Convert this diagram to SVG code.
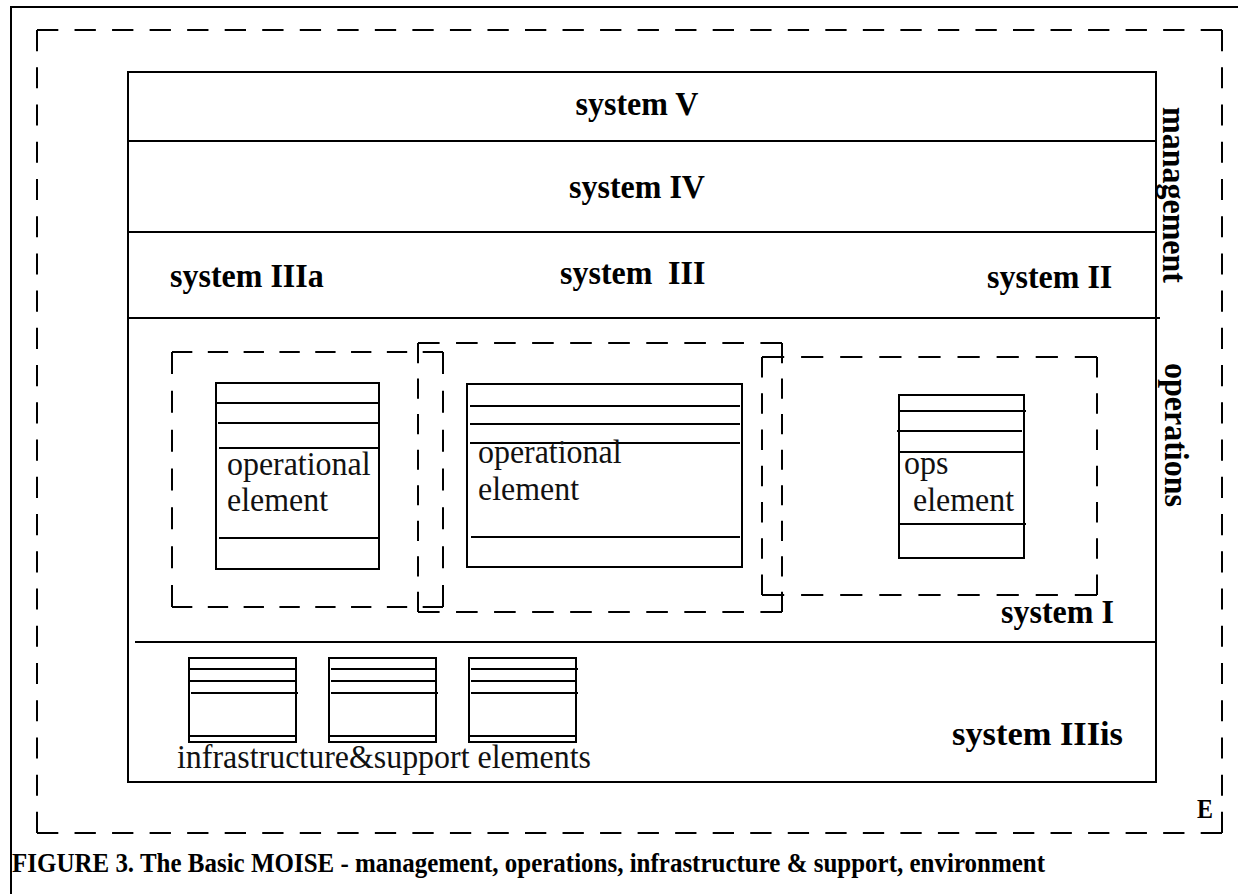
<svg xmlns="http://www.w3.org/2000/svg" width="1238" height="894" viewBox="0 0 1238 894">
  <style>
    .solid { fill: none; stroke: #000; stroke-width: 2; }
    .dash { fill: none; stroke: #000; stroke-width: 2; stroke-dasharray: 21 16; }
    .line { stroke: #000; stroke-width: 2; }
    .lbl { font-family: "Liberation Serif", "Times New Roman", serif; font-weight: bold; font-size: 32px; fill: #000; }
    .elt { font-family: "Liberation Serif", "Times New Roman", serif; font-size: 31px; fill: #111; }
    .cap { font-family: "Liberation Serif", "Times New Roman", serif; font-weight: bold; font-size: 28px; fill: #000; }
  </style>

  <rect width="1238" height="894" fill="#fff"/>

  <!-- page frame -->
  <g id="frame">
    <line class="line" x1="11" y1="7" x2="1238" y2="7"/>
    <line class="line" x1="11" y1="6" x2="11" y2="894"/>
  </g>

  <!-- environment boundary -->
  <g id="environment">
    <line class="dash" x1="37" y1="30" x2="1222" y2="30" pathLength="1168"/>
    <line class="dash" x1="37" y1="833" x2="1222" y2="833" pathLength="1168"/>
    <line class="dash" x1="37" y1="30" x2="37" y2="833" pathLength="798"/>
    <line class="dash" x1="1222" y1="30" x2="1222" y2="833" pathLength="798"/>
    <text class="lbl" transform="translate(1197,818) scale(1,1.1)" style="font-size:24px">E</text>
  </g>

  <!-- the viable system -->
  <g id="organisation">
    <rect class="solid" x="128" y="72" width="1028" height="710"/>
    <line class="line" x1="128" y1="141" x2="1156" y2="141"/>
    <line class="line" x1="128" y1="232" x2="1156" y2="232"/>
    <line class="line" x1="128" y1="318" x2="1160" y2="318"/>
    <line class="line" x1="135" y1="642" x2="1156" y2="642"/>
  </g>

  <g id="system-v">
    <text class="lbl" transform="translate(637,115) scale(1,1.08)" text-anchor="middle">system V</text>
  </g>
  <g id="system-iv">
    <text class="lbl" transform="translate(637,198) scale(1,1.08)" text-anchor="middle">system IV</text>
  </g>
  <g id="system-iiia">
    <text class="lbl" transform="translate(170,287) scale(1,1.08)">system IIIa</text>
  </g>
  <g id="system-iii">
    <text class="lbl" transform="translate(560,284) scale(1,1.08)">system<tspan x="108">III</tspan></text>
  </g>
  <g id="system-ii">
    <text class="lbl" transform="translate(987,288) scale(1,1.08)">system II</text>
  </g>
  <g id="management">
    <text class="lbl" transform="translate(1163,107) rotate(90) scale(1,1.08)">management</text>
  </g>
  <g id="operations">
    <text class="lbl" transform="translate(1165,363) rotate(90) scale(1,1.08)">operations</text>
  </g>

  <!-- system I: operational units -->
  <g id="unit-1">
    <line class="dash" x1="172" y1="352" x2="443" y2="352" pathLength="280"/>
    <line class="dash" x1="172" y1="607" x2="443" y2="607" pathLength="280"/>
    <line class="dash" x1="172" y1="352" x2="172" y2="607" pathLength="243"/>
    <line class="dash" x1="443" y1="352" x2="443" y2="607" pathLength="243"/>
    <rect class="solid" x="216" y="383" width="163" height="186"/>
    <line class="line" x1="216" y1="403" x2="379" y2="403"/>
    <line class="line" x1="218" y1="423" x2="379" y2="423"/>
    <line class="line" x1="219" y1="448" x2="379" y2="448"/>
    <line class="line" x1="219" y1="538" x2="379" y2="538"/>
    <text class="elt" transform="translate(227,475) scale(1.03,1.1)">operational</text>
    <text class="elt" transform="translate(227,511) scale(1.03,1.1)">element</text>
  </g>

  <g id="unit-2">
    <line class="dash" x1="418" y1="343" x2="782" y2="343" pathLength="354"/>
    <line class="dash" x1="418" y1="612" x2="782" y2="612" pathLength="354"/>
    <line class="dash" x1="418" y1="343" x2="418" y2="612" pathLength="280"/>
    <line class="dash" x1="782" y1="343" x2="782" y2="612" pathLength="280"/>
    <rect class="solid" x="467" y="384" width="275" height="183"/>
    <line class="line" x1="470" y1="406" x2="740" y2="406"/>
    <line class="line" x1="470" y1="424" x2="740" y2="424"/>
    <line class="line" x1="470" y1="443" x2="740" y2="443"/>
    <line class="line" x1="471" y1="537" x2="740" y2="537"/>
    <text class="elt" transform="translate(478,463) scale(1.03,1.1)">operational</text>
    <text class="elt" transform="translate(478,500) scale(1.03,1.1)">element</text>
  </g>

  <g id="unit-3">
    <line class="dash" x1="762" y1="357" x2="1097" y2="357" pathLength="317"/>
    <line class="dash" x1="762" y1="595" x2="1097" y2="595" pathLength="317"/>
    <line class="dash" x1="762" y1="357" x2="762" y2="595" pathLength="243"/>
    <line class="dash" x1="1097" y1="357" x2="1097" y2="595" pathLength="243"/>
    <rect class="solid" x="899" y="395" width="125" height="163"/>
    <line class="line" x1="899" y1="411" x2="1026" y2="411"/>
    <line class="line" x1="897" y1="431" x2="1022" y2="431"/>
    <line class="line" x1="899" y1="452" x2="1024" y2="452"/>
    <line class="line" x1="899" y1="524" x2="1026" y2="524"/>
    <text class="elt" transform="translate(904,474) scale(1.03,1.1)">ops</text>
    <text class="elt" transform="translate(913,511) scale(1.03,1.1)">element</text>
  </g>

  <g id="system-i">
    <text class="lbl" transform="translate(1001,623) scale(1,1.08)">system  I</text>
  </g>

  <!-- system IIIis: infrastructure and support -->
  <g id="support-1">
    <rect class="solid" x="189" y="658" width="107" height="84"/>
    <line class="line" x1="189" y1="669" x2="296" y2="669"/>
    <line class="line" x1="189" y1="681" x2="296" y2="681"/>
    <line class="line" x1="191" y1="693" x2="298" y2="693"/>
    <line class="line" x1="189" y1="736" x2="296" y2="736"/>
  </g>
  <g id="support-2">
    <rect class="solid" x="329" y="658" width="107" height="84"/>
    <line class="line" x1="331" y1="669" x2="436" y2="669"/>
    <line class="line" x1="331" y1="681" x2="436" y2="681"/>
    <line class="line" x1="331" y1="693" x2="438" y2="693"/>
    <line class="line" x1="329" y1="736" x2="436" y2="736"/>
  </g>
  <g id="support-3">
    <rect class="solid" x="469" y="658" width="107" height="84"/>
    <line class="line" x1="471" y1="669" x2="578" y2="669"/>
    <line class="line" x1="471" y1="681" x2="576" y2="681"/>
    <line class="line" x1="471" y1="693" x2="578" y2="693"/>
    <line class="line" x1="469" y1="736" x2="576" y2="736"/>
  </g>
  <g id="support-label">
    <text class="elt" transform="translate(177,768) scale(1.03,1.12)">infrastructure&amp;support elements</text>
  </g>
  <g id="system-iiiis">
    <text class="lbl" transform="translate(952,745) scale(1,1.08)" textLength="171" lengthAdjust="spacingAndGlyphs">system IIIis</text>
  </g>

  <g id="caption">
    <text class="cap" x="12" y="872" textLength="1033" lengthAdjust="spacingAndGlyphs">FIGURE 3. The Basic MOISE - management, operations, infrastructure &amp; support, environment</text>
  </g>
</svg>
